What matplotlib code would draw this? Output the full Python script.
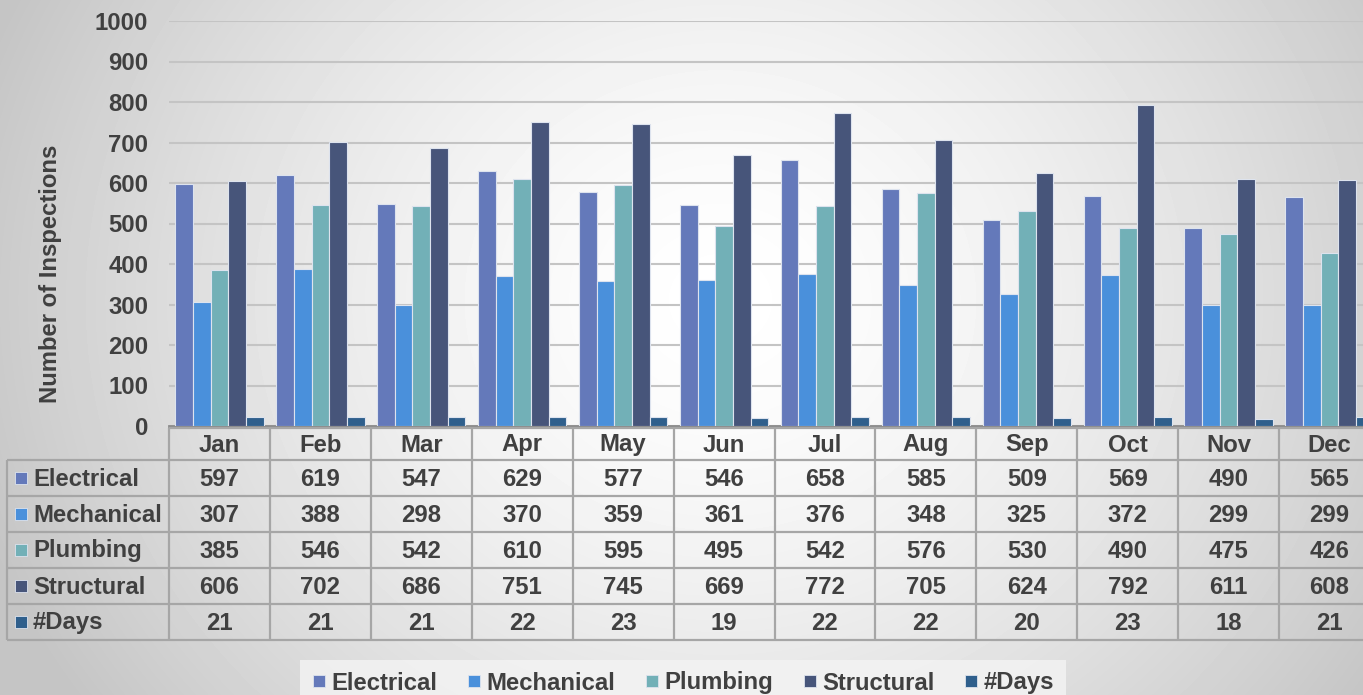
import numpy as np
import matplotlib.pyplot as plt
from matplotlib.lines import Line2D

plt.rcParams['font.family'] = ['Liberation Sans', 'DejaVu Sans']
plt.rcParams['font.weight'] = 'bold'
plt.rcParams['axes.labelweight'] = 'bold'

# data
months = ["Jan", "Feb", "Mar", "Apr", "May", "Jun", "Jul", "Aug", "Sep", "Oct", "Nov", "Dec"]
series_names = ["Electrical", "Mechanical", "Plumbing", "Structural", "#Days"]
electrical = [597, 619, 547, 629, 577, 546, 658, 585, 509, 569, 490, 565]
mechanical = [307, 388, 298, 370, 359, 361, 376, 348, 325, 372, 299, 299]
plumbing = [385, 546, 542, 610, 595, 495, 542, 576, 530, 490, 475, 426]
structural = [606, 702, 686, 751, 745, 669, 772, 705, 624, 792, 611, 608]
days = [21, 21, 21, 22, 23, 19, 22, 22, 20, 23, 18, 21]
series = [electrical, mechanical, plumbing, structural, days]
colors = ["#6479BA", "#4A90DB", "#72B0B7", "#47557A", "#2F5F8C"]
txt = "#404040"
fs = 17.2

W, H = 1363, 695
fig = plt.figure(figsize=(W / 100, H / 100), dpi=100)

# background radial gradient
bg = fig.add_axes([0, 0, 1, 1])
yy, xx = np.mgrid[0:H, 0:W]
r = np.sqrt(((xx - 720) / 1.0) ** 2 + ((yy - 300) / 0.9) ** 2)
val = np.clip(1.0 - 0.22 * (r / 760) ** 1.5, 0.77, 1.0)
bg.imshow(val, cmap="gray", vmin=0, vmax=1, extent=[0, W, H, 0], aspect="auto")
bg.axis("off")

# main chart axes (plot area runs off the right edge like the original)
x0, x1 = 169, 1380
ytop, ybot = 21, 426
ax = fig.add_axes([x0 / W, (H - ybot) / H, (x1 - x0) / W, (ybot - ytop) / H])
ax.set_facecolor("none")
x = np.arange(len(months))
bw = 0.175
for k, (vals, c) in enumerate(zip(series, colors)):
    ax.bar(x + (k - 2) * bw, vals, bw, color=c, edgecolor="#dde3ee", linewidth=0.8, zorder=3)
ax.set_xlim(-0.5, len(months) - 0.5)
ax.set_ylim(0, 1000)
ax.set_yticks(np.arange(0, 1001, 100))
ax.tick_params(axis="y", length=0, labelsize=fs, labelcolor=txt, pad=15)
for t in ax.get_yticklabels():
    t.set_fontweight("bold")
ax.set_xticks([])
ax.grid(axis="y", color="#c4c4c4", linewidth=1.5, zorder=0)
for s in ["top", "right", "left"]:
    ax.spines[s].set_visible(False)
ax.spines["bottom"].set_color("#8c8c8c")
ax.spines["bottom"].set_linewidth(2)
ax.set_ylabel("Number of Inspections", fontsize=fs, color=txt, fontweight="bold")
ax.yaxis.set_label_coords(-107 / (x1 - x0), (ybot - 274) / (ybot - ytop))

# data table, x in month units, y in pixels
tb = fig.add_axes([x0 / W, (H - 641) / H, (x1 - x0) / W, (641 - 428) / H])
tb.set_xlim(-0.5, len(months) - 0.5)
tb.set_ylim(641, 428)
tb.axis("off")
px = (len(months)) / (x1 - x0)
left_x = -0.5 - (169 - 7) * px
row_edges = [428, 460, 496, 532, 568, 604, 640]
lc = "#a6a6a6"
kw = dict(color=lc, linewidth=1.6, clip_on=False, solid_capstyle="butt")
tb.plot([-0.5, len(months) - 0.5], [row_edges[0]] * 2, **kw)
for ye in row_edges[1:]:
    tb.plot([left_x, len(months) - 0.5], [ye, ye], **kw)
tb.plot([left_x, left_x], [row_edges[1], row_edges[-1]], **kw)
for i in range(len(months) + 1):
    tb.plot([i - 0.5, i - 0.5], [row_edges[0], row_edges[-1]], **kw)
for i, m in enumerate(months):
    tb.text(i, (row_edges[0] + row_edges[1]) / 2 + 1, m, ha="center", va="center",
            fontsize=fs, fontweight="bold", color=txt, clip_on=False)
for r_i, (name, vals, c) in enumerate(zip(series_names, series, colors)):
    yc = (row_edges[r_i + 1] + row_edges[r_i + 2]) / 2 + 1
    tb.plot([left_x + 14 * px], [yc - 1], marker="s", markersize=8, color=c,
            markeredgecolor="#dde3ee", markeredgewidth=0.6, clip_on=False)
    tb.text(left_x + 26 * px, yc, name, ha="left", va="center", fontsize=fs,
            fontweight="bold", color=txt, clip_on=False)
    for i, v in enumerate(vals):
        tb.text(i, yc, str(v), ha="center", va="center", fontsize=fs,
                fontweight="bold", color=txt, clip_on=False)

# legend
handles = [Line2D([], [], linestyle="none", marker="s", markersize=9, color=c,
                  markeredgecolor="#dde3ee", markeredgewidth=0.6) for c in colors]
leg = fig.legend(handles, series_names, loc="center", ncol=5,
                 bbox_to_anchor=(683 / W, (H - 683) / H), frameon=True,
                 prop={"size": fs, "weight": "bold"}, handlelength=0.6,
                 handletextpad=0.2, columnspacing=1.25, borderpad=0.5,
                 borderaxespad=0, fancybox=False)
leg.get_frame().set_facecolor("#f4f4f4")
leg.get_frame().set_edgecolor("none")
for t in leg.get_texts():
    t.set_color(txt)

fig.savefig("out.png", dpi=100)
